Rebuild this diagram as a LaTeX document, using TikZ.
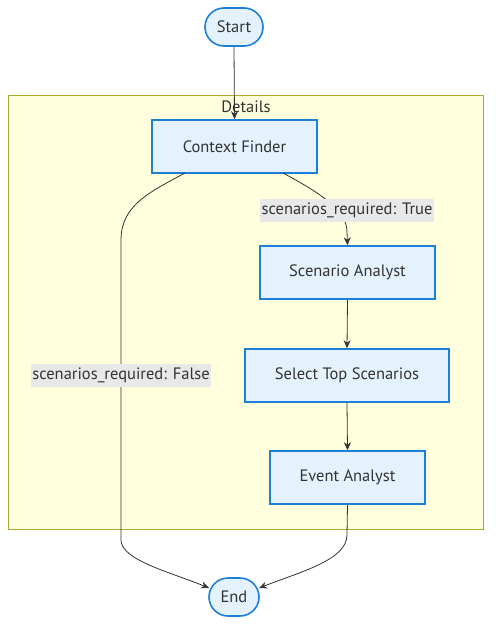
\documentclass[tikz,border=0pt]{standalone}
\usepackage{fontspec}
\setmainfont{PT Sans}
\usetikzlibrary{arrows.meta,shapes.misc}
\definecolor{nodefill}{HTML}{E3F2FD}
\definecolor{nodeborder}{HTML}{1E7FD8}
\definecolor{clusterfill}{HTML}{FFFFDE}
\definecolor{clusterborder}{HTML}{AAAA33}
\definecolor{edgecol}{HTML}{333333}
\definecolor{labelbg}{HTML}{E8E8E8}
\definecolor{textcol}{HTML}{333333}
\begin{document}
\begin{tikzpicture}[x=1pt,y=-1pt,
  every node/.style={font=\fontsize{16.5}{18}\selectfont, text=textcol},
  box/.style={draw=nodeborder, fill=nodefill, line width=1.6pt, rectangle, inner sep=0pt},
  term/.style={draw=nodeborder, fill=nodefill, line width=1.6pt, rounded rectangle, inner sep=0pt, minimum height=38pt},
  elabel/.style={fill=labelbg, inner sep=0pt, minimum height=23pt},
  edge/.style={draw=edgecol, line width=0.8pt, -{Stealth[length=8pt,width=7pt]}}
]
\useasboundingbox (0,0) rectangle (499,634);
\fill[white] (0,0) rectangle (499,634);
\draw[fill=clusterfill, draw=clusterborder, line width=0.8pt] (8,95) rectangle (483,529);
\node (details) at (246,107) {Details};

\node[term, minimum width=58pt] (start) at (234,27) {Start};
\node[term, minimum width=50pt] (end) at (234,597) {End};
\node[box, minimum width=165pt, minimum height=53pt] (cf) at (234.5,146.5) {Context Finder};
\node[box, minimum width=175pt, minimum height=53pt] (sa) at (347.5,272.5) {Scenario Analyst};
\node[box, minimum width=204pt, minimum height=53pt] (sts) at (347,375.5) {Select Top Scenarios};
\node[box, minimum width=155pt, minimum height=53pt] (ea) at (347.5,477.5) {Event Analyst};

\coordinate (cfr) at (283,173);
\coordinate (cfl) at (185,173);
\coordinate (endl) at (209,588);
\coordinate (endr) at (259,588);

\draw[edge] (start.south) -- (cf.north);
\draw[edge] (cfr) .. controls (320,193) and (347,210) .. (347,232) -- (sa.north);
\draw[edge] (cfl) .. controls (150,192) and (121,205) .. (121,240) -- (121,540) .. controls (121,560) and (170,572) .. (endl);
\draw[edge] (sa.south) -- (sts.north);
\draw[edge] (sts.south) -- (ea.north);
\draw[edge] (ea.south) -- (347,535) .. controls (347,560) and (300,572) .. (endr);

\node[elabel, minimum width=174pt] (lt) at (347,210) {scenarios\_required: True};
\node[elabel, minimum width=180pt] (lf) at (121,375.5) {scenarios\_required: False};
\end{tikzpicture}
\end{document}
